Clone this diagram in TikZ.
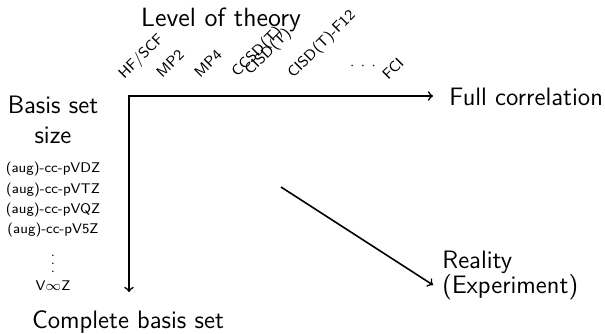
\documentclass[tikz,border=0pt]{standalone}
\begin{document}
\begin{tikzpicture}[x=0.5pt,y=-0.5pt,
  big/.style={font=\fontsize{12.6}{15}\selectfont\sffamily, inner sep=0pt},
  small/.style={font=\fontsize{7}{8}\selectfont\sffamily, inner sep=0pt},
  rot/.style={font=\fontsize{7.5}{8}\selectfont\sffamily, inner sep=0pt, rotate=45, anchor=base west},
  axis/.style={line width=0.8pt, ->}]
\useasboundingbox (0,0) rectangle (605,333);
% title labels
\node[big, font=\fontsize{13.2}{15}\selectfont\sffamily] (lot) at (221,20) {Level of theory};
\node[big, align=center] (bss) at (53,120) {Basis set\\size};
% theory levels
\node[rot] (hf) at (124,80) {HF/SCF};
\node[rot] (mp2) at (162,79) {MP2};
\node[rot] (mp4) at (200,79) {MP4};
\node[rot] (ccsd) at (237,78) {CCSD(T)};
\node[rot] (cisd) at (250,76) {CISD(T)};
\node[rot] (f12) at (293,79) {CISD(T)-F12};
\node[small] (dots) at (363,66) {$\cdot$\hspace{3pt}$\cdot$\hspace{3pt}$\cdot$};
\node[rot] (fci) at (388,81) {FCI};
% basis sets
\node[small] (dz) at (53,169) {(aug)-cc-pVDZ};
\node[small] (tz) at (53,190) {(aug)-cc-pVTZ};
\node[small] (qz) at (53,210) {(aug)-cc-pVQZ};
\node[small] (fz) at (53,230) {(aug)-cc-pV5Z};
\node[small] (vd) at (53,258) {$\vdots$};
\node[small] (inf) at (53,286) {V$\infty$Z};
% axes
\coordinate (O) at (129,96);
\coordinate (E) at (433,96);
\coordinate (S) at (129,292);
\draw[axis, <->] (S) -- (O) -- (E);
\node[big, anchor=west] (fc) at (449,97) {Full correlation};
\node[big] (cbs) at (128,322) {Complete basis set};
% diagonal
\coordinate (d1) at (281,187);
\coordinate (d2) at (433,285);
\draw[axis] (d1) -- (d2);
\node[big, anchor=west, align=left, font=\fontsize{12.6}{12.5}\selectfont\sffamily] (real) at (442,275) {Reality\\(Experiment)};
\end{tikzpicture}
\end{document}
